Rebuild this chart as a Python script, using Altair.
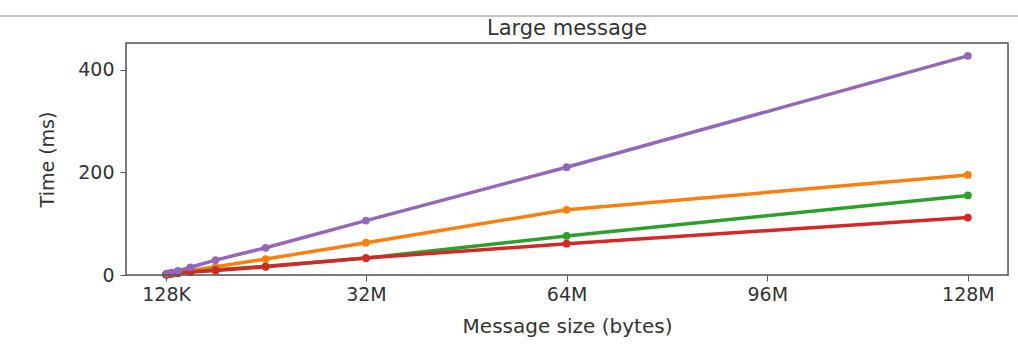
import altair as alt
import pandas as pd

# Message sizes in MB (128K .. 128M, powers of two)
sizes_mb = [0.125, 0.25, 0.5, 1, 2, 4, 8, 16, 32, 64, 128]

# Transfer time in ms for each implementation
series_names = ["impl_a", "impl_b", "impl_c", "impl_d"]
time_a = [1, 1.5, 2, 3, 5, 9, 16, 31, 63, 127, 195]       # orange
time_b = [0.8, 1, 1.5, 2.5, 4, 6, 10, 17, 33, 76, 155]    # green
time_c = [0.8, 1, 1.5, 2.5, 3.5, 6, 9, 16, 33, 61, 112]   # red
time_d = [1.5, 2, 3, 4.5, 8, 15, 29, 53, 106, 210, 427]   # purple
series_colors = ["#ff7f0e", "#2ca02c", "#d62728", "#9467bd"]

x_tick_values = [0.125, 32, 64, 96, 128]
y_tick_values = [0, 200, 400]

rows = []
for name, vals in zip(series_names, [time_a, time_b, time_c, time_d]):
    for s, t in zip(sizes_mb, vals):
        rows.append({"size": s, "time": t, "series": name})
df = pd.DataFrame(rows)

FONT = "DejaVu Sans"

x_enc = alt.X(
    "size:Q",
    scale=alt.Scale(domain=[-6.27, 134.4], nice=False, zero=False),
    axis=alt.Axis(
        title="Message size (bytes)",
        values=x_tick_values,
        labelExpr="datum.value < 1 ? '128K' : datum.value + 'M'",
        grid=False,
        domain=False,
        tickSize=6,
        tickColor="#555555",
        labelFontSize=19,
        titleFontSize=20,
        labelColor="#333333",
        titleColor="#333333",
        titleFontWeight="normal",
        labelPadding=4,
        titlePadding=12,
        labelFont=FONT,
        titleFont=FONT,
    ),
)
y_enc = alt.Y(
    "time:Q",
    scale=alt.Scale(domain=[0, 452], nice=False),
    axis=alt.Axis(
        title="Time (ms)",
        values=y_tick_values,
        grid=False,
        domain=False,
        tickSize=6,
        tickColor="#555555",
        labelFontSize=19,
        titleFontSize=19,
        labelColor="#333333",
        titleColor="#333333",
        titleFontWeight="normal",
        labelPadding=6,
        titlePadding=20,
        labelFont=FONT,
        titleFont=FONT,
    ),
)
color_enc = alt.Color(
    "series:N",
    scale=alt.Scale(domain=series_names, range=series_colors),
    legend=None,
)

base = alt.Chart(df).encode(x=x_enc, y=y_enc, color=color_enc, order=alt.Order("size:Q"))
lines = base.mark_line(strokeWidth=3.5)
points = base.mark_point(filled=True, size=60, opacity=1)

# Plot frame drawn on all four sides
frame = alt.Chart(pd.DataFrame({"k": [0]})).mark_rect(
    fill=None, stroke="#555555", strokeWidth=1.5
).encode(x=alt.value(0), x2=alt.value(882), y=alt.value(0), y2=alt.value(232))

# Thin separator line above the title
separator = alt.Chart(pd.DataFrame({"k": [0]})).mark_rule(
    color="#c4c4c4", strokeWidth=2
).encode(x=alt.value(-126), x2=alt.value(892), y=alt.value(-27))

chart = (
    alt.layer(lines, points, frame, separator)
    .properties(
        width=882,
        height=232,
        title=alt.TitleParams(
            "Large message",
            fontSize=21,
            font=FONT,
            fontWeight="normal",
            color="#333333",
            offset=6,
            dy=30,
        ),
        autosize=alt.AutoSizeParams(type="none"),
        padding={"left": 126, "top": 43, "right": 10, "bottom": 71},
    )
    .configure_view(stroke=None)
    .configure(background="white")
)

chart.save("out.html", embed_options={"renderer": "svg", "actions": False})
